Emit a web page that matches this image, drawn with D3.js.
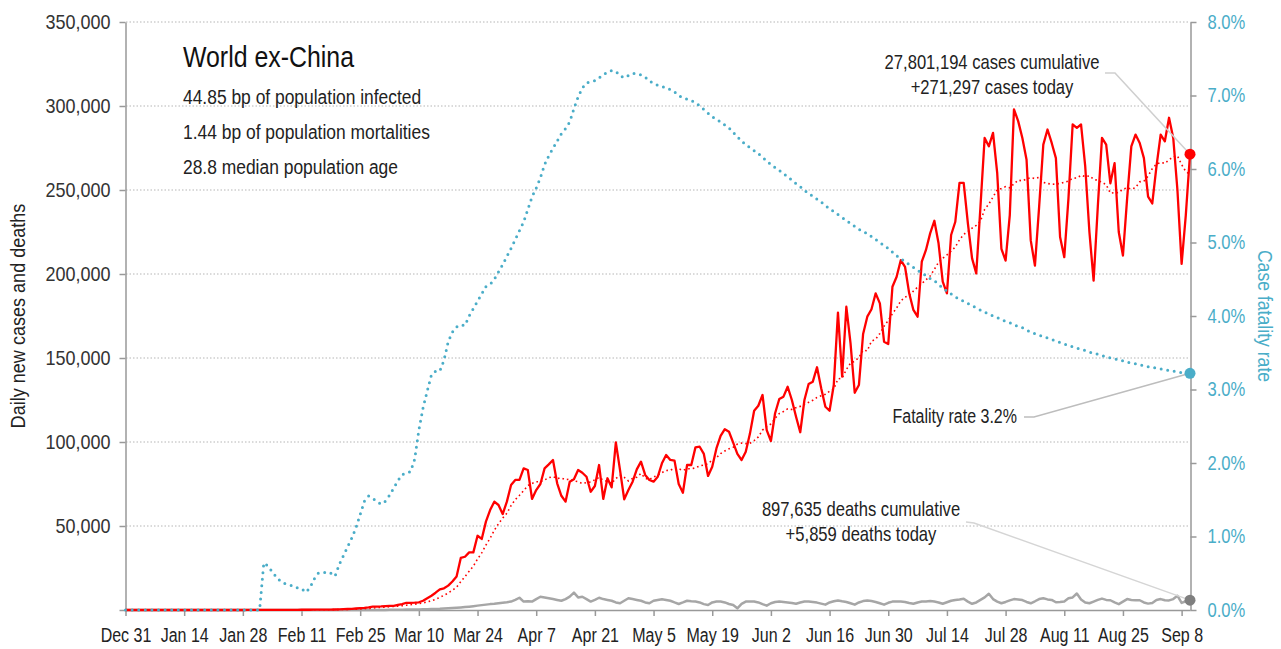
<!DOCTYPE html>
<html><head><meta charset="utf-8">
<script src="https://cdn.jsdelivr.net/npm/d3@7"></script>
<style>
body{margin:0;background:#fff;}
svg text{font-family:"Liberation Sans",Arial,sans-serif;}
</style></head><body>
<svg id="c" width="1281" height="649"></svg>
<script>
const startDate = "2019-12-31";
const xTickLabels = ["Dec 31","Jan 14","Jan 28","Feb 11","Feb 25","Mar 10","Mar 24","Apr 7","Apr 21","May 5","May 19","Jun 2","Jun 16","Jun 30","Jul 14","Jul 28","Aug 11","Aug 25","Sep 8"];
const yTicks = [0,50000,100000,150000,200000,250000,300000,350000];
const cfrTicks = [0,1,2,3,4,5,6,7,8];

const dailyCases = [
0,0,0,0,0,0,0,0,0,0,0,0,0,0,0,0,0,0,0,0,
0,0,2,3,5,8,10,12,15,20,
25,30,40,50,60,70,80,90,100,110,
120,130,140,150,160,170,180,200,220,250,
300,400,500,600,700,900,1100,1300,1600,2000,
2000,2100,2300,2400,2500,3000,3500,
4300,4300,4400,4600,5500,7000,8500,10300,12300,12900,14500,17000,20000,
31000,31700,34300,34300,44200,42300,52600,59500,64500,62500,
57100,64500,74400,77400,77400,84300,83300,66100,71400,75000,
84300,86700,89300,75400,68000,64500,76400,77800,83300,81700,
79300,70400,73800,86300,66100,78400,73000,99800,83300,65900,
71400,76400,83700,88300,80400,77400,76400,79300,87300,92300,
89300,88900,75000,69800,86300,86300,96800,97200,92900,79800,
85300,96200,103600,107600,106100,99600,92900,89300,94200,105000,
118600,121600,128000,107100,100600,117100,125600,127000,132900,125000,
115000,105800,125000,134500,135900,144500,132000,121000,118600,133900,
177000,138900,180500,158700,129300,133900,164300,174600,179000,188500,
182500,159700,158300,192400,198400,208300,204300,188500,178600,174600,
207300,214300,224200,231700,218300,195400,188500,223200,231100,254300,
254300,230200,209300,200400,240000,281000,276000,284000,260000,215000,
208000,235000,298000,291000,281000,268000,220000,205000,240000,277000,
286000,278000,269000,222000,210000,245000,289000,287000,289000,264000,
225000,196000,240000,281000,277000,254000,266000,225000,211000,245000,
276000,283000,278000,269000,246000,242000,264000,283000,279000,293000,
281000,250000,206000,235000,271297
];

const dailyDeaths = [
0,0,0,0,0,0,0,0,0,0,0,0,0,0,0,0,0,0,0,0,0,0,0,0,0,0,0,0,0,0,
0,0,0,0,0,0,0,0,0,0,0,0,0,0,0,0,0,0,0,0,
2,3,5,8,10,12,15,20,25,30,
40,50,60,80,100,150,180,250,300,350,
350,400,500,550,650,700,850,1000,1150,1300,
1500,1750,2000,2300,2600,2900,3200,3500,3700,4000,
4300,4600,5000,6000,7300,5000,5200,5000,6500,7900,
7500,7000,6500,6000,5500,6500,8000,10300,7500,7900,
6500,5000,6000,7300,6500,6000,5500,4500,4000,5500,
7000,6500,6000,5500,4500,4000,5500,6000,6400,6000,
5500,4500,3600,4500,5500,5200,5000,4500,3500,3000,
4500,5000,5000,4500,3600,3000,1000,3600,5000,5000,
5000,4500,3500,2600,4000,4800,5100,4800,4500,4200,
3700,4500,5100,5000,4700,4400,3800,3200,4500,5200,
5700,5200,4800,4000,3200,4500,5300,5700,5400,4800,
4000,3200,4300,5000,5100,5000,4800,4200,3700,4500,
5000,5100,5300,5000,4500,3700,4600,5500,6000,6300,
6700,5000,3700,4500,6000,7500,9700,6500,5000,4000,
4800,5700,6500,6300,5900,4800,4000,5200,6500,7000,
6300,6000,4600,4800,5100,7000,7500,9800,6300,4500,
4000,5000,6000,6800,6000,5800,4500,3500,5000,6500,
6000,5800,5800,4500,3800,4200,6000,6500,5800,5700,
6500,8500,4200,5200,5859
];

const caseFatalityRate = [
0,0,0,0,0,0,0,0,0,0,0,0,0,0,0,0,0,0,0,0,0,0,0,0,0,0,0,0,0,0,0,0,0,
0.64,0.6,0.52,0.45,0.39,0.36,0.34,0.33,0.30,0.29,
0.24,0.30,0.42,0.5,0.5,0.52,0.5,0.46,0.62,0.74,
0.86,0.98,1.12,1.3,1.48,1.55,1.52,1.47,1.44,1.48,
1.56,1.66,1.76,1.84,1.87,1.88,2.05,2.45,2.75,2.98,
3.2,3.25,3.25,3.4,3.65,3.78,3.85,3.88,3.87,4.0,
4.1,4.2,4.3,4.4,4.43,4.5,4.6,4.7,4.81,4.92,
5.04,5.16,5.28,5.45,5.62,5.74,5.88,6.06,6.18,6.28,
6.38,6.48,6.55,6.64,6.82,6.98,7.1,7.17,7.19,7.2,
7.24,7.28,7.32,7.34,7.33,7.27,7.24,7.27,7.3,7.3,
7.28,7.25,7.2,7.16,7.14,7.12,7.11,7.08,7.05,7.0,
6.97,6.95,6.93,6.9,6.86,6.81,6.76,6.71,6.68,6.64,
6.6,6.56,6.5,6.44,6.38,6.33,6.29,6.25,6.21,6.16,
6.11,6.06,6.02,5.98,5.94,5.89,5.85,5.8,5.76,5.71,
5.67,5.63,5.59,5.55,5.5,5.46,5.42,5.38,5.34,5.3,
5.26,5.22,5.18,5.15,5.12,5.08,5.04,5.0,4.96,4.92,
4.87,4.82,4.78,4.74,4.7,4.66,4.62,4.59,4.55,4.51,
4.48,4.43,4.38,4.34,4.3,4.26,4.23,4.2,4.17,4.14,
4.11,4.08,4.05,4.03,4.0,3.98,3.95,3.93,3.91,3.88,
3.86,3.84,3.81,3.78,3.76,3.74,3.72,3.7,3.68,3.66,
3.64,3.62,3.6,3.58,3.56,3.55,3.53,3.51,3.49,3.48,
3.46,3.45,3.43,3.42,3.4,3.39,3.37,3.36,3.35,3.34,
3.32,3.31,3.3,3.29,3.28,3.27,3.26,3.25,3.24,3.23,
3.23,3.22
];

const titleText = "World ex-China";
const subtitleLines = ["44.85 bp of population infected","1.44 bp of population mortalities","28.8 median population age"];
const casesNote = ["27,801,194 cases cumulative","+271,297 cases today"];
const cfrNote = "Fatality rate 3.2%";
const deathsNote = ["897,635 deaths cumulative","+5,859 deaths today"];

const TEAL = "#4aadc8", RED = "#ff0000", GRAY = "#a6a6a6", AXIS = "#999";
const NARROW = 0.83;

const svg = d3.select("#c");
const t0 = d3.timeParse("%Y-%m-%d")(startDate);
const dates = dailyCases.map((_, i) => d3.timeDay.offset(t0, i));
const rows = dates.map((d, i) => ({
  date: d, cases: dailyCases[i], deaths: dailyDeaths[i], cfr: caseFatalityRate[i],
  avg: d3.mean(dailyCases.slice(Math.max(0, i - 6), i + 1))
}));

const x = d3.scaleTime().domain([dates[0], dates[dates.length - 1]]).range([125.5, 1190]);
const yL = d3.scaleLinear().domain([0, 350000]).range([610, 22]);
const yR = d3.scaleLinear().domain([0, 8]).range([610, 22]);

// condensed text helper
function label(parent, px, py, str, size, opts = {}) {
  const s = opts.scale || NARROW;
  const rot = opts.rotate ? ` rotate(${opts.rotate})` : "";
  return parent.append("text")
    .attr("transform", `translate(${px},${py})${rot} scale(${s},1)`)
    .attr("text-anchor", opts.anchor || "start")
    .attr("font-size", size).attr("fill", opts.fill || "#222").text(str);
}

// grid
svg.append("g").selectAll("line").data(yTicks.filter(v => v > 0)).join("line")
  .attr("x1", 126).attr("x2", 1190).attr("y1", d => yL(d)).attr("y2", d => yL(d))
  .attr("stroke", "#b5b5b5").attr("stroke-width", 1).attr("stroke-dasharray", "1.5,2");

const xTickDates = xTickLabels.map((_, i) => d3.timeDay.offset(t0, i * 14));

function styleAxis(g, color, s) {
  g.select(".domain").attr("stroke", AXIS).attr("stroke-width", 1.5);
  g.selectAll(".tick line").attr("stroke", AXIS).attr("stroke-width", 1.5);
  g.selectAll(".tick text").attr("font-size", 20).attr("fill", color)
    .attr("font-family", '"Liberation Sans",Arial,sans-serif')
    .each(function () {
      const t = d3.select(this);
      const xx = +t.attr("x") || 0, yy = +t.attr("y") || 0;
      t.attr("x", 0).attr("y", 0).attr("transform", `translate(${xx},${yy}) scale(${s},1)`);
    });
}

const gx = svg.append("g").attr("transform", "translate(0,610)")
  .call(d3.axisBottom(x).tickValues(xTickDates).tickFormat((d, i) => xTickLabels[i]).tickSize(6).tickPadding(12).tickSizeOuter(0));
styleAxis(gx, "#222", 0.8);

const gl = svg.append("g").attr("transform", "translate(125.5,0)")
  .call(d3.axisLeft(yL).tickValues(yTicks).tickFormat(d => d === 0 ? "" : d3.format(",")(d)).tickSize(6).tickPadding(9).tickSizeOuter(0));
styleAxis(gl, "#333", 0.9);

const gr = svg.append("g").attr("transform", "translate(1190.5,0)")
  .call(d3.axisRight(yR).tickValues(cfrTicks).tickFormat(d => d.toFixed(1) + "%").tickSize(6).tickPadding(11).tickSizeOuter(0));
styleAxis(gr, TEAL, 0.83);

// axis titles
label(svg, 25, 316, "Daily new cases and deaths", 21, { rotate: -90, anchor: "middle", scale: 0.86 });
label(svg, 1258, 316, "Case fatality rate", 21, { rotate: 90, anchor: "middle", fill: TEAL, scale: 0.84 });

// lines
const line = (yf) => d3.line().x(d => x(d.date)).y(yf);
svg.append("path").datum(rows).attr("fill", "none").attr("stroke", GRAY).attr("stroke-width", 2.5)
  .attr("stroke-linejoin", "round").attr("d", line(d => yL(d.deaths)));
svg.append("path").datum(rows).attr("fill", "none").attr("stroke", RED).attr("stroke-width", 1.6)
  .attr("stroke-dasharray", "1.6,3").attr("d", line(d => yL(d.avg)));
svg.append("path").datum(rows).attr("fill", "none").attr("stroke", RED).attr("stroke-width", 2.3)
  .attr("stroke-linejoin", "round").attr("d", line(d => yL(d.cases)));
svg.append("path").datum(rows).attr("fill", "none").attr("stroke", TEAL).attr("stroke-width", 3)
  .attr("stroke-linecap", "round").attr("stroke-dasharray", "0,6.6").attr("d", line(d => yR(d.cfr)));

const last = rows[rows.length - 1];
const lx = x(last.date);

// leader lines
svg.append("polyline").attr("fill", "none").attr("stroke", "#cfcfcf").attr("stroke-width", 1.5)
  .attr("points", `1105,73 1115,73 ${lx},${yL(last.cases)}`);
svg.append("polyline").attr("fill", "none").attr("stroke", "#bdbdbd").attr("stroke-width", 1.5)
  .attr("points", `1024,417 1034,417 ${lx},${yR(last.cfr)}`);
svg.append("polyline").attr("fill", "none").attr("stroke", "#d5d5d5").attr("stroke-width", 1.5)
  .attr("points", `966,522 974,523 ${lx},${yL(last.deaths)}`);

// end dots
svg.append("circle").attr("cx", lx).attr("cy", yL(last.deaths)).attr("r", 5.5).attr("fill", "#7f7f7f");
svg.append("circle").attr("cx", lx).attr("cy", yR(last.cfr)).attr("r", 5.5).attr("fill", TEAL);
svg.append("circle").attr("cx", lx).attr("cy", yL(last.cases)).attr("r", 5.5).attr("fill", RED);

// title block
label(svg, 183, 67, titleText, 30, { fill: "#111" });
subtitleLines.forEach((s, i) => label(svg, 183, 104 + i * 35, s, 21));

// annotations
casesNote.forEach((s, i) => label(svg, 992, 69 + i * 24.5, s, 20, { anchor: "middle" }));
label(svg, 1017, 423, cfrNote, 20, { anchor: "end", scale: 0.8 });
deathsNote.forEach((s, i) => label(svg, 861, 516 + i * 24.5, s, 20, { anchor: "middle" }));
</script>
</body></html>
